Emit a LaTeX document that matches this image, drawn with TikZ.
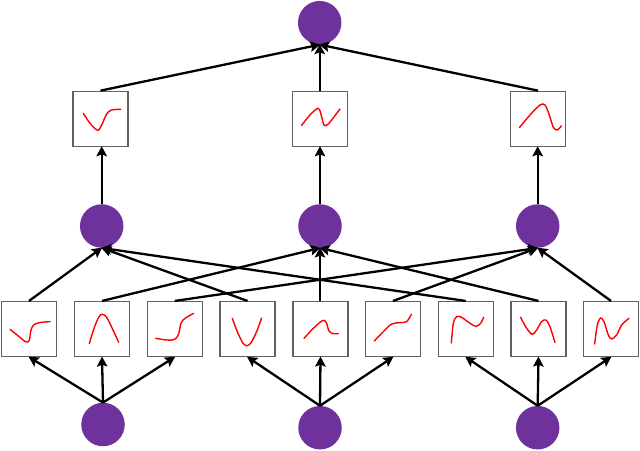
\documentclass[tikz,border=0pt]{standalone}
\usetikzlibrary{arrows.meta}
\definecolor{nodepurple}{HTML}{6F319B}
\tikzset{
  x=1pt,y=-1pt,
  unit/.style={circle,fill=nodepurple,draw=none,minimum size=43.5pt,inner sep=0pt},
  fbox/.style={rectangle,draw=black!62,line width=1.1pt,fill=white,minimum size=55pt,inner sep=0pt},
  edge/.style={draw=black,line width=2.3pt,-{Stealth[length=10pt,width=10.5pt,inset=1.8pt]},shorten >=-0.5pt},
  curve/.style={draw=red,line width=1.4pt,line cap=round},
  zoomed/.style={x=0.3333pt,y=-0.3333pt}
}
\begin{document}
\begin{tikzpicture}
\useasboundingbox (0,0) rectangle (640,450);
% input units
\node[unit] (i1) at (103,424.5) {};
\node[unit] (i2) at (320,427.7) {};
\node[unit] (i3) at (537.7,427.7) {};
% bottom function boxes
\node[fbox] (b1) at (29,329) {};
\node[fbox] (b2) at (102,329) {};
\node[fbox] (b3) at (174.7,329) {};
\node[fbox] (b4) at (247.5,329) {};
\node[fbox] (b5) at (320.5,329) {};
\node[fbox] (b6) at (393,329) {};
\node[fbox] (b7) at (465.7,329) {};
\node[fbox] (b8) at (538.5,329) {};
\node[fbox] (b9) at (611,329) {};
% middle units
\node[unit] (m1) at (101.7,226) {};
\node[unit] (m2) at (320,226) {};
\node[unit] (m3) at (537.7,226) {};
% upper function boxes
\node[fbox] (u1) at (100.5,118.7) {};
\node[fbox] (u2) at (319.7,118.7) {};
\node[fbox] (u3) at (538,118.7) {};
% output
\node[unit] (o) at (319.7,22.7) {};
% connectors
\foreach \i/\a/\b/\c in {i1/b1/b2/b3,i2/b4/b5/b6,i3/b7/b8/b9}{
  \draw[edge] (\i.north) -- (\a.south);
  \draw[edge] (\i.north) -- (\b.south);
  \draw[edge] (\i.north) -- (\c.south);
}
\foreach \a/\m in {b1/m1,b2/m2,b3/m3,b4/m1,b6/m3,b7/m1,b8/m2,b9/m3}{
  \draw[edge] (\a.north) -- (\m.south);
}
\draw[edge] (m2.south |- b5.north) -- (m2.south);
\foreach \m/\u in {m1/u1,m2/u2,m3/u3}{
  \draw[edge] (\m.north) -- (\m.north |- \u.south);
}
\draw[edge] (u1.north) -- (o.south);
\draw[edge] (o.south |- u2.north) -- (o.south);
\draw[edge] (u3.north) -- (o.south);
% curves, bottom row left
\begin{scope}[shift={(0,290)},zoomed]
\draw[curve] plot[smooth] coordinates {(30,118)(55,138)(78,156)(88,150)(93,120)(103,103)(125,97)(150,95)};
\draw[curve] plot[smooth] coordinates {(268,161)(282,115)(297,80)(307,73)(320,82)(340,122)(356,157)};
\draw[curve] plot[smooth] coordinates {(467,145)(500,150)(522,149)(535,135)(543,100)(555,85)(581,70)};
\draw[curve] plot[smooth] coordinates {(697,85)(712,125)(728,158)(740,167)(752,160)(770,125)(785,84)};
\end{scope}
% curve b5
\begin{scope}[shift={(285,295)},zoomed]
\draw[curve] plot[smooth] coordinates {(57,130)(80,105)(105,82)(117,76)(125,85)(132,108)(145,116)(160,116)};
\end{scope}
% curves, bottom row right
\begin{scope}[shift={(320,290)},zoomed]
\draw[curve] plot[smooth] coordinates {(163,153)(190,125)(215,102)(240,98)(260,95)(274,73)};
\draw[curve] plot[smooth] coordinates {(394,159)(400,100)(410,80)(425,82)(450,100)(468,109)(482,100)(491,82)};
\draw[curve] plot[smooth] coordinates {(602,82)(620,115)(637,133)(650,120)(665,95)(678,90)(690,110)(705,158)};
\draw[curve] plot[smooth] coordinates {(824,162)(832,105)(842,84)(852,95)(865,135)(875,147)(890,135)(905,105)(927,85)};
\end{scope}
% curves, upper row
\begin{scope}[shift={(60,0)},zoomed]
\draw[curve] plot[smooth] coordinates {(70,340)(90,370)(113,391)(125,375)(140,342)(155,330)(182,328)};
\draw[curve] plot[smooth] coordinates {(725,376)(750,345)(775,325)(785,350)(792,375)(805,372)(840,327)};
\end{scope}
\begin{scope}[shift={(340,0)},zoomed]
\draw[curve] plot[smooth] coordinates {(539,382)(570,345)(600,315)(615,315)(628,345)(640,382)(652,390)(664,378)};
\end{scope}
\end{tikzpicture}
\end{document}
